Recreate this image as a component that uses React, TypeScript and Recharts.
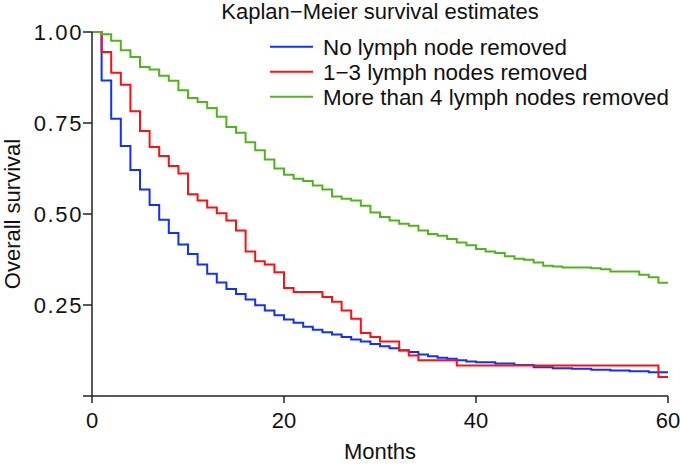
import React from "react"
import { LineChart, Line, XAxis, YAxis, Customized } from "recharts"

const months = [
  0, 1, 2, 3, 4, 5, 6, 7, 8, 9, 10, 11, 12, 13, 14, 15, 16, 17, 18, 19, 20,
  21, 22, 23, 24, 25, 26, 27, 28, 29, 30, 31, 32, 33, 34, 35, 36, 37, 38, 39, 40,
  41, 42, 43, 44, 45, 46, 47, 48, 49, 50, 51, 52, 53, 54, 55, 56, 57, 58, 59, 60,
]

// No lymph node removed
const noneRemoved = [
  1.0, 0.867, 0.762, 0.687, 0.621, 0.567, 0.525, 0.484, 0.448, 0.416, 0.39,
  0.361, 0.336, 0.312, 0.294, 0.28, 0.265, 0.249, 0.235, 0.222, 0.21,
  0.201, 0.19, 0.182, 0.175, 0.169, 0.162, 0.155, 0.15, 0.143, 0.137,
  0.131, 0.126, 0.121, 0.114, 0.109, 0.105, 0.102, 0.098, 0.095, 0.093,
  0.093, 0.089, 0.089, 0.085, 0.085, 0.079, 0.079, 0.076, 0.076, 0.075,
  0.075, 0.072, 0.072, 0.07, 0.07, 0.068, 0.068, 0.065, 0.065, 0.065,
]

// 1-3 lymph nodes removed
const oneToThree = [
  1.0, 0.945, 0.888, 0.855, 0.782, 0.728, 0.684, 0.659, 0.632, 0.611, 0.554,
  0.537, 0.518, 0.502, 0.482, 0.455, 0.397, 0.37, 0.361, 0.34, 0.297,
  0.286, 0.286, 0.286, 0.272, 0.259, 0.235, 0.212, 0.173, 0.162, 0.15,
  0.15, 0.125, 0.111, 0.098, 0.098, 0.098, 0.098, 0.084, 0.084, 0.084,
  0.084, 0.084, 0.084, 0.084, 0.084, 0.084, 0.084, 0.084, 0.084, 0.084,
  0.084, 0.084, 0.084, 0.084, 0.084, 0.084, 0.084, 0.084, 0.052, 0.052,
]

// more than 4 lymph nodes removed
const moreThanFour = [
  1.0, 0.994, 0.976, 0.95, 0.931, 0.904, 0.897, 0.88, 0.866, 0.84, 0.819,
  0.808, 0.791, 0.767, 0.739, 0.723, 0.697, 0.675, 0.65, 0.625, 0.608,
  0.597, 0.591, 0.578, 0.567, 0.548, 0.542, 0.537, 0.523, 0.504, 0.492,
  0.482, 0.473, 0.468, 0.455, 0.445, 0.44, 0.431, 0.422, 0.414, 0.404,
  0.397, 0.393, 0.384, 0.377, 0.374, 0.367, 0.358, 0.356, 0.353, 0.353,
  0.353, 0.351, 0.348, 0.342, 0.342, 0.342, 0.333, 0.326, 0.311, 0.311,
]

const xTicks = [0, 20, 40, 60]
const yTicks = [0, 0.25, 0.5, 0.75, 1]

const series = [
  { key: "none", name: "No lymph node removed", color: "#1030ff" },
  { key: "few", name: "1\u22123 lymph nodes removed", color: "#ff1010" },
  { key: "many", name: "More than 4 lymph nodes removed", color: "#52b41c" },
]

const data = months.map((m, i) => ({
  month: m,
  none: noneRemoved[i],
  few: oneToThree[i],
  many: moreThanFour[i],
}))

const FONT = "'Liberation Sans', Arial, Helvetica, sans-serif"

const Annotations = () => (
  <g fontFamily={FONT} fill="#111">
    <text x={380} y={19} textAnchor="middle" fontSize={22}>
      Kaplan{"\u2212"}Meier survival estimates
    </text>
    {series.map((s, i) => (
      <g key={s.key}>
        <line x1={270} x2={313} y1={46.7 + i * 25} y2={46.7 + i * 25} stroke={s.color} strokeWidth={2} />
        <text x={323} y={54.5 + i * 25} fontSize={22.4}>
          {s.name}
        </text>
      </g>
    ))}
    <text x={380} y={459} textAnchor="middle" fontSize={22}>
      Months
    </text>
    <text x={20} y={214} textAnchor="middle" fontSize={22} transform="rotate(-90 20 214)">
      Overall survival
    </text>
  </g>
)

export default function App() {
  return (
    <div style={{ position: "absolute", left: 0, top: 0, background: "#fff" }}>
      <LineChart width={680} height={464} data={data} margin={{ top: 32, right: 12, bottom: 8, left: 0 }}>
        <XAxis
          dataKey="month"
          type="number"
          domain={[0, 60]}
          ticks={xTicks}
          interval={0}
          height={60}
          tickSize={7}
          tickMargin={9}
          stroke="#222"
          strokeWidth={1.5}
          tick={{ fill: "#111", fontSize: 22, fontFamily: FONT }}
        />
        <YAxis
          type="number"
          domain={[0, 1]}
          ticks={yTicks}
          interval={0}
          width={92}
          tickSize={9}
          tickMargin={0}
          stroke="#222"
          strokeWidth={1.5}
          tickFormatter={(v: number) => (v === 0 ? "" : v.toFixed(2))}
          tick={{ fill: "#111", fontSize: 22, fontFamily: FONT, letterSpacing: 1.6 }}
        />
        {series.map((s) => (
          <Line
            key={s.key}
            type="stepAfter"
            dataKey={s.key}
            name={s.name}
            stroke={s.color}
            strokeWidth={2}
            dot={false}
            isAnimationActive={false}
          />
        ))}
        <Customized component={Annotations} />
      </LineChart>
    </div>
  )
}
